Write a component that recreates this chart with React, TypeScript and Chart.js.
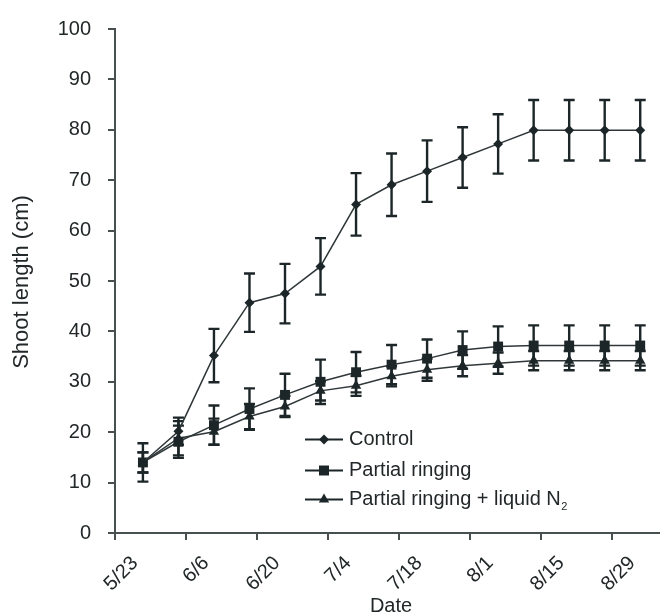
import React, { useEffect, useRef } from 'react';
import { Chart, registerables } from 'chart.js';

Chart.register(...registerables);

// ---- data ----
const tickLabels = ['5/23', '6/6', '6/20', '7/4', '7/18', '8/1', '8/15', '8/29'];
const sampleDates = ['5/28', '6/4', '6/11', '6/18', '6/25', '7/2', '7/9', '7/16', '7/23', '7/30', '8/6', '8/13', '8/20', '8/27', '9/3'];

const controlMean = [14, 20.2, 35.2, 45.7, 47.5, 52.9, 65.2, 69.1, 71.8, 74.5, 77.2, 79.9, 79.9, 79.9, 79.9];
const controlErr = [3.8, 2.7, 5.3, 5.8, 5.9, 5.6, 6.2, 6.2, 6.1, 6.0, 5.9, 6.0, 6.0, 6.0, 6.0];

const ringingMean = [14, 18.1, 21.4, 24.6, 27.4, 30.0, 31.9, 33.4, 34.6, 36.3, 37.0, 37.2, 37.2, 37.2, 37.2];
const ringingErr = [2, 3.2, 3.9, 4.1, 4.2, 4.4, 4.0, 3.9, 3.8, 3.7, 4.0, 4.0, 4.0, 4.0, 4.0];

const nitrogenMean = [14, 18.8, 20.1, 23.1, 25.1, 28.2, 29.2, 31.1, 32.4, 33.2, 33.7, 34.2, 34.2, 34.2, 34.2];
const nitrogenErr = [2, 3.4, 2.6, 2.5, 2.1, 1.9, 2.0, 2.0, 2.2, 2.1, 2.1, 1.9, 1.9, 1.9, 1.9];

const seriesNames = ['Control', 'Partial ringing', 'Partial ringing + liquid N'];
const seriesSubscripts = ['', '', '2'];

// ---- style ----
const FONT = '"Liberation Sans", Arial, sans-serif';
const TEXT = '#222829';
const MARK = '#1c2628';
const LINE = '#2f3739';
const AXIS = '#474f51';
const START = { m: 5, d: 23 };
const SAMPLE_HOUR = 12; // samples plotted at midday

function dayOffset(label: string, hour = 0): number {
  const [m, d] = label.split('/').map(Number);
  const t = Date.UTC(2000, m - 1, d) - Date.UTC(2000, START.m - 1, START.d);
  return t / 86400000 + hour / 24;
}

function drawMarker(ctx: CanvasRenderingContext2D, style: string, x: number, y: number) {
  ctx.beginPath();
  if (style === 'rectRot') {
    const r = 5;
    ctx.moveTo(x, y - r);
    ctx.lineTo(x + r, y);
    ctx.lineTo(x, y + r);
    ctx.lineTo(x - r, y);
  } else if (style === 'rect') {
    ctx.rect(x - 5, y - 5, 10, 10);
  } else {
    const r = 6;
    ctx.moveTo(x, y - r);
    ctx.lineTo(x + r * 0.866, y + r * 0.5);
    ctx.lineTo(x - r * 0.866, y + r * 0.5);
  }
  ctx.closePath();
  ctx.fill();
}

const errorBarPlugin = {
  id: 'errorBars',
  beforeDatasetsDraw(chart: any) {
    const { ctx, scales } = chart;
    const x = scales.x;
    const y = scales.y;
    ctx.save();
    ctx.strokeStyle = MARK;
    ctx.lineWidth = 2.4;
    chart.data.datasets.forEach((ds: any) => {
      ds.data.forEach((p: any, j: number) => {
        const e = ds.errors[j];
        const px = x.getPixelForValue(p.x);
        const top = y.getPixelForValue(p.y + e);
        const bot = y.getPixelForValue(p.y - e);
        ctx.beginPath();
        ctx.moveTo(px, top);
        ctx.lineTo(px, bot);
        ctx.moveTo(px - 5.5, top);
        ctx.lineTo(px + 5.5, top);
        ctx.moveTo(px - 5.5, bot);
        ctx.lineTo(px + 5.5, bot);
        ctx.stroke();
      });
    });
    ctx.restore();
  },
};

const textPlugin = {
  id: 'texts',
  afterDraw(chart: any) {
    const { ctx, scales } = chart;
    const x = scales.x;
    ctx.save();
    ctx.fillStyle = TEXT;

    // x tick labels, rotated 45 degrees
    ctx.font = `20px ${FONT}`;
    ctx.textAlign = 'right';
    ctx.textBaseline = 'middle';
    tickLabels.forEach((lab) => {
      const px = x.getPixelForValue(dayOffset(lab));
      ctx.save();
      ctx.translate(px + 20, 560);
      ctx.rotate(-Math.PI / 4);
      ctx.fillText(lab, 0, 0);
      ctx.restore();
    });

    // axis titles
    ctx.textAlign = 'center';
    ctx.font = `20px ${FONT}`;
    ctx.fillText('Date', 391, 606);
    ctx.save();
    ctx.translate(22, 282);
    ctx.rotate(-Math.PI / 2);
    ctx.font = `22px ${FONT}`;
    ctx.fillText('Shoot length (cm)', 0, 0);
    ctx.restore();

    // legend
    const rows = [439.5, 470.5, 499.5];
    chart.data.datasets.forEach((ds: any, i: number) => {
      const ry = rows[i];
      ctx.strokeStyle = MARK;
      ctx.lineWidth = 2;
      ctx.beginPath();
      ctx.moveTo(305, ry);
      ctx.lineTo(343, ry);
      ctx.stroke();
      ctx.fillStyle = MARK;
      drawMarker(ctx, ds.pointStyle, 324, ry);
      ctx.fillStyle = TEXT;
      ctx.font = `20px ${FONT}`;
      ctx.textAlign = 'left';
      ctx.textBaseline = 'middle';
      ctx.fillText(seriesNames[i], 349, ry);
      if (seriesSubscripts[i]) {
        const w = ctx.measureText(seriesNames[i]).width;
        ctx.font = `11px ${FONT}`;
        ctx.fillText(seriesSubscripts[i], 349 + w + 0.5, ry + 7);
      }
    });
    ctx.restore();
  },
};

function makeDataset(label: string, mean: number[], err: number[], pointStyle: string, radius: number) {
  return {
    label,
    data: mean.map((v, i) => ({ x: dayOffset(sampleDates[i], SAMPLE_HOUR), y: v })),
    errors: err,
    borderColor: LINE,
    borderWidth: 1.5,
    backgroundColor: MARK,
    pointBackgroundColor: MARK,
    pointBorderColor: MARK,
    pointBorderWidth: 0,
    pointStyle,
    pointRadius: radius,
    pointHoverRadius: radius,
    tension: 0,
    fill: false,
  };
}

export default function App() {
  const ref = useRef<HTMLCanvasElement | null>(null);

  useEffect(() => {
    if (!ref.current) return;
    const chart = new Chart(ref.current, {
      type: 'line',
      data: {
        datasets: [
          makeDataset(seriesNames[0], controlMean, controlErr, 'rectRot', 5),
          makeDataset(seriesNames[1], ringingMean, ringingErr, 'rect', 7),
          makeDataset(seriesNames[2] + '2', nitrogenMean, nitrogenErr, 'triangle', 6),
        ] as any,
      },
      options: {
        responsive: false,
        animation: false,
        devicePixelRatio: 1,
        layout: { padding: { top: 21, right: 1, left: 0, bottom: 0 } },
        plugins: {
          legend: { display: false },
          tooltip: { enabled: false },
        },
        scales: {
          x: {
            type: 'linear',
            min: 0,
            max: 107.2,
            afterBuildTicks: (scale: any) => {
              scale.ticks = tickLabels.map((l) => ({ value: dayOffset(l) }));
            },
            afterFit: (scale: any) => {
              scale.height = 83;
            },
            ticks: { display: false },
            grid: {
              drawOnChartArea: false,
              drawTicks: true,
              tickLength: 7,
              color: AXIS,
              lineWidth: 2,
            },
            border: { display: true, color: AXIS, width: 2 },
          },
          y: {
            min: 0,
            max: 100,
            afterFit: (scale: any) => {
              scale.width = 115;
            },
            ticks: {
              stepSize: 10,
              color: TEXT,
              padding: 17,
              font: { family: FONT, size: 20 },
            },
            grid: {
              drawOnChartArea: false,
              drawTicks: true,
              tickLength: 7,
              color: AXIS,
              lineWidth: 2,
            },
            border: { display: true, color: AXIS, width: 2 },
          },
        },
      } as any,
      plugins: [errorBarPlugin, textPlugin],
    });
    return () => chart.destroy();
  }, []);

  return (
    <div style={{ position: 'fixed', left: 0, top: 0, width: 666, height: 616, background: '#fff' }}>
      <canvas ref={ref} width={666} height={616} style={{ display: 'block' }} />
    </div>
  );
}
